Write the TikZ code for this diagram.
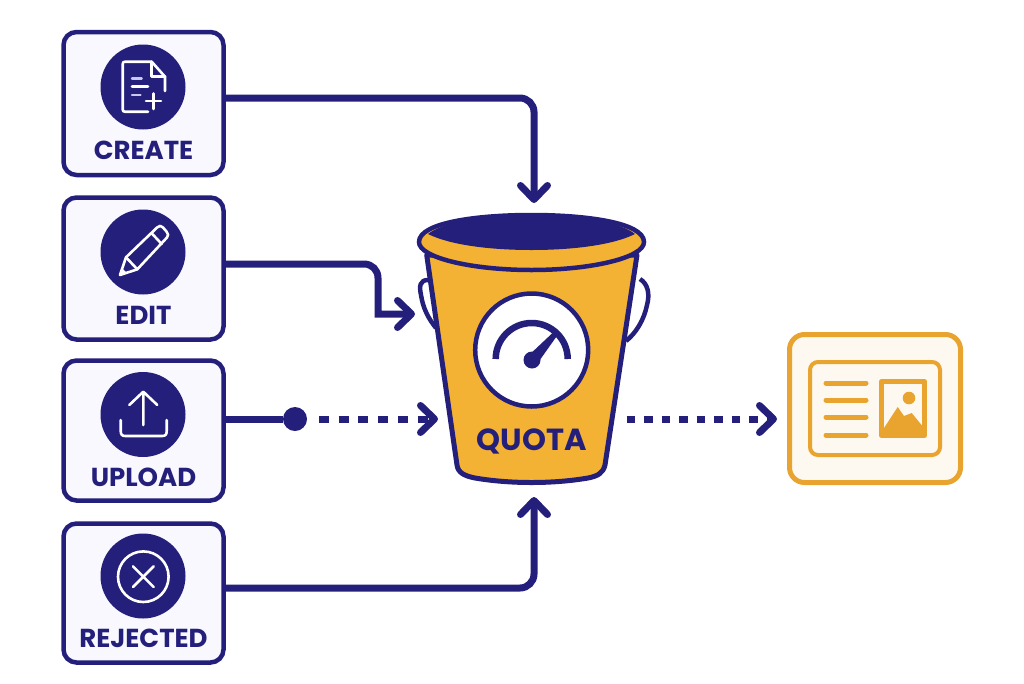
\documentclass[tikz,border=0pt]{standalone}
\usepackage{fontspec}
\setmainfont{Poppins}
\usetikzlibrary{arrows.meta,shapes.geometric}
\definecolor{navy}{HTML}{241F7B}
\definecolor{gold}{HTML}{F3B234}
\definecolor{amber}{HTML}{E9A42F}
\definecolor{cardfill}{HTML}{F8F8FE}
\definecolor{outfill}{HTML}{FEF9F0}
\definecolor{lav}{HTML}{C9C6F0}
\tikzset{
  card/.style={draw=navy,fill=cardfill,line width=4.5pt,rounded corners=13pt,minimum width=160pt,minimum height=#1,outer sep=0pt,inner sep=0pt},
  disc/.style={circle,fill=navy,minimum size=85pt,inner sep=0pt,outer sep=0pt},
  cardlabel/.style={text=navy,font=\fontsize{26}{28}\selectfont\bfseries,inner sep=0pt,anchor=center},
  iconline/.style={draw=white,line width=2.6pt,line cap=round,line join=round},
  wire/.style={draw=navy,line width=7pt,rounded corners=14pt},
  tip/.style={-{Straight Barb[width=27pt,length=14pt,round]}},
  dotted wire/.style={draw=navy,line width=7pt},
  buck/.style={draw=navy,line width=5pt,line join=round},
  goldline/.style={draw=amber,line cap=round,line join=round}
}
\begin{document}
\begin{tikzpicture}[x=1pt,y=-1pt]
\useasboundingbox (0,0) rectangle (1024,683);
% cards
\node[card=143pt] (create) at (143.5,103.5) {};
\node[card=142pt] (edit) at (143.5,268.5) {};
\node[card=140pt] (upload) at (143.5,430.5) {};
\node[card=139pt] (rejected) at (143.5,593) {};
\node[disc] (d1) at (143,87) {};
\node[disc] (d2) at (143,252) {};
\node[disc] (d3) at (143,414.5) {};
\node[disc] (d4) at (143,576) {};
\node[cardlabel] (l1) at (143.5,150) {CREATE};
\node[cardlabel] (l2) at (143.5,315) {EDIT};
\node[cardlabel] (l3) at (143.5,477) {UPLOAD};
\node[cardlabel] (l4) at (143.5,638) {REJECTED};
% create icon
\draw[iconline] (148,111.7) -- (125,111.7) .. controls (123.5,111.7) and (122.7,111) .. (122.7,109.5) -- (122.7,64) .. controls (122.7,62.5) and (123.5,61.7) .. (125,61.7) -- (151.7,61.7) -- (165,76.7) -- (165,91);
\draw[iconline] (151.7,61.7) -- (151.7,76.7) -- (165,76.7);
\draw[draw=lav,line width=2.4pt,line cap=round] (132,78.3) -- (141.7,78.3);
\draw[iconline] (132,86.7) -- (148,86.7);
\draw[draw=lav,line width=2.4pt,line cap=round] (132,95) -- (140.5,95);
\draw[iconline] (146,101) -- (161,101) (153.3,93.5) -- (153.3,109);
% edit icon
\draw[iconline] (120,275) -- (126,257.3) -- (157.3,227.3) .. controls (159.5,225.3) and (161,225.5) .. (163,227.5) -- (166.5,231.5) .. controls (168.5,233.8) and (168.5,235.5) .. (167,237.5) -- (137.3,269.3) -- cycle;
\draw[iconline] (126,257.3) -- (137.3,269.3) (151.7,233.3) -- (161.7,244);
\fill[white] (120,275) -- (122,268) -- (127,273) -- cycle;
% upload icon
\draw[iconline] (143.3,425) -- (143.3,392) (129.3,405) -- (143.3,391.7) -- (157.3,405);
\draw[iconline] (120.7,420) -- (120.7,431) .. controls (120.7,434.5) and (122,436) .. (125.5,436) -- (162,436) .. controls (165.5,436) and (166.7,434.5) .. (166.7,431) -- (166.7,420);
% rejected icon
\node[circle,draw=white,line width=2.6pt,minimum size=50.6pt,inner sep=0pt] (xring) at (143.3,576.7) {};
\draw[iconline] (133,566.4) -- (153.6,587) (153.6,566.4) -- (133,587);
% bucket handles
\draw[buck,line width=4.5pt] (428,280) .. controls (420,280) and (419,286) .. (421,295) .. controls (423,308) and (428,318) .. (436,328);
\draw[buck,line width=4.5pt] (640,279) .. controls (648,284) and (650,294) .. (647,305) .. controls (644,320) and (636,333) .. (626,341);
% bucket body
\draw[buck,fill=gold] (426.7,255) -- (457,465) .. controls (458,473) and (465,476) .. (475,478) .. controls (510,484) and (553,484) .. (588,478) .. controls (598,476) and (603,473) .. (605,465) -- (637,255) -- cycle;
% rim
\draw[draw=navy,line width=4.5pt,fill=gold] (419,242) .. controls (419,222) and (480,215) .. (531.5,215) .. controls (583,215) and (644,222) .. (644,242) .. controls (644,258) and (590,270) .. (531.5,270) .. controls (473,270) and (419,258) .. (419,242) -- cycle;
\fill[navy] (428,234) .. controls (450,245) and (490,250) .. (531.5,250) .. controls (573,250) and (613,245) .. (635,234) .. controls (620,222) and (580,215) .. (531.5,215) .. controls (483,215) and (443,222) .. (428,234) -- cycle;
% gauge
\node[circle,draw=navy,line width=4.5pt,fill=white,minimum size=113pt,inner sep=0pt,outer sep=0pt] (gauge) at (531.7,350) {};
\draw[navy,line width=6.5pt] (495.7,359) arc[start angle=180,end angle=0,radius=36pt];
\fill[navy] (552.5,333) -- (556.5,336.5) -- (537,364) -- (527,357) -- cycle;
\fill[navy] (532,360) circle[radius=8.5pt];
\node[text=navy,font=\fontsize{30.5}{32}\selectfont\bfseries,inner sep=0pt] (quota) at (531.7,441) {QUOTA};
% output card
\node[draw=amber,fill=outfill,line width=5pt,rounded corners=15pt,minimum width=171pt,minimum height=148pt,inner sep=0pt,outer sep=0pt] (output) at (875,408.5) {};
\node[draw=amber,line width=4pt,rounded corners=8pt,minimum width=130pt,minimum height=93pt,inner sep=0pt,outer sep=0pt] (panel) at (875,408.5) {};
\draw[goldline,line width=5pt] (826,383) -- (866,383) (826,400) -- (866,400) (826,417) -- (866,417) (826,435) -- (866,435);
\draw[draw=amber,line width=5pt,line join=round,fill=outfill] (881.5,381.5) rectangle (924.5,435.5);
\fill[amber] (909,398) circle[radius=6.3pt];
\fill[amber] (884,428) -- (897.7,407) -- (904,416) -- (911.7,413) -- (924,428) -- (924,435) -- (884,435) -- cycle;
% connectors
\coordinate (intop) at (534,203);
\coordinate (inedit) at (415,314);
\coordinate (kneeedit) at (378,264);
\coordinate (inupload) at (438,419);
\coordinate (inbottom) at (534,497);
\coordinate (outstart) at (626.5,419);
\coordinate (outend) at (777,419);
\node[circle,fill=navy,minimum size=24pt,inner sep=0pt,outer sep=0pt] (junction) at (295,419) {};
\draw[wire,tip] ([yshift=5.5pt]create.east) -| (intop);
\draw[wire,tip,rounded corners=0pt] ([yshift=4.5pt]edit.east) -- ([xshift=-14pt]kneeedit) .. controls ([xshift=-6pt]kneeedit) and ([yshift=-6pt]kneeedit) .. ([yshift=-14pt]kneeedit) -- (kneeedit |- inedit) -- (inedit);
\draw[wire] ([yshift=11.5pt]upload.east) -- (junction);
\draw[dotted wire,tip,dash pattern=on 10pt off 9.7pt,dash phase=10pt] ([xshift=2.3pt]junction.east) -- (inupload);
\draw[wire,tip] ([yshift=5pt]rejected.east) -| (inbottom);
\draw[dotted wire,tip,dash pattern=on 8.5pt off 9pt] (outstart) -- (outend);
\end{tikzpicture}
\end{document}
